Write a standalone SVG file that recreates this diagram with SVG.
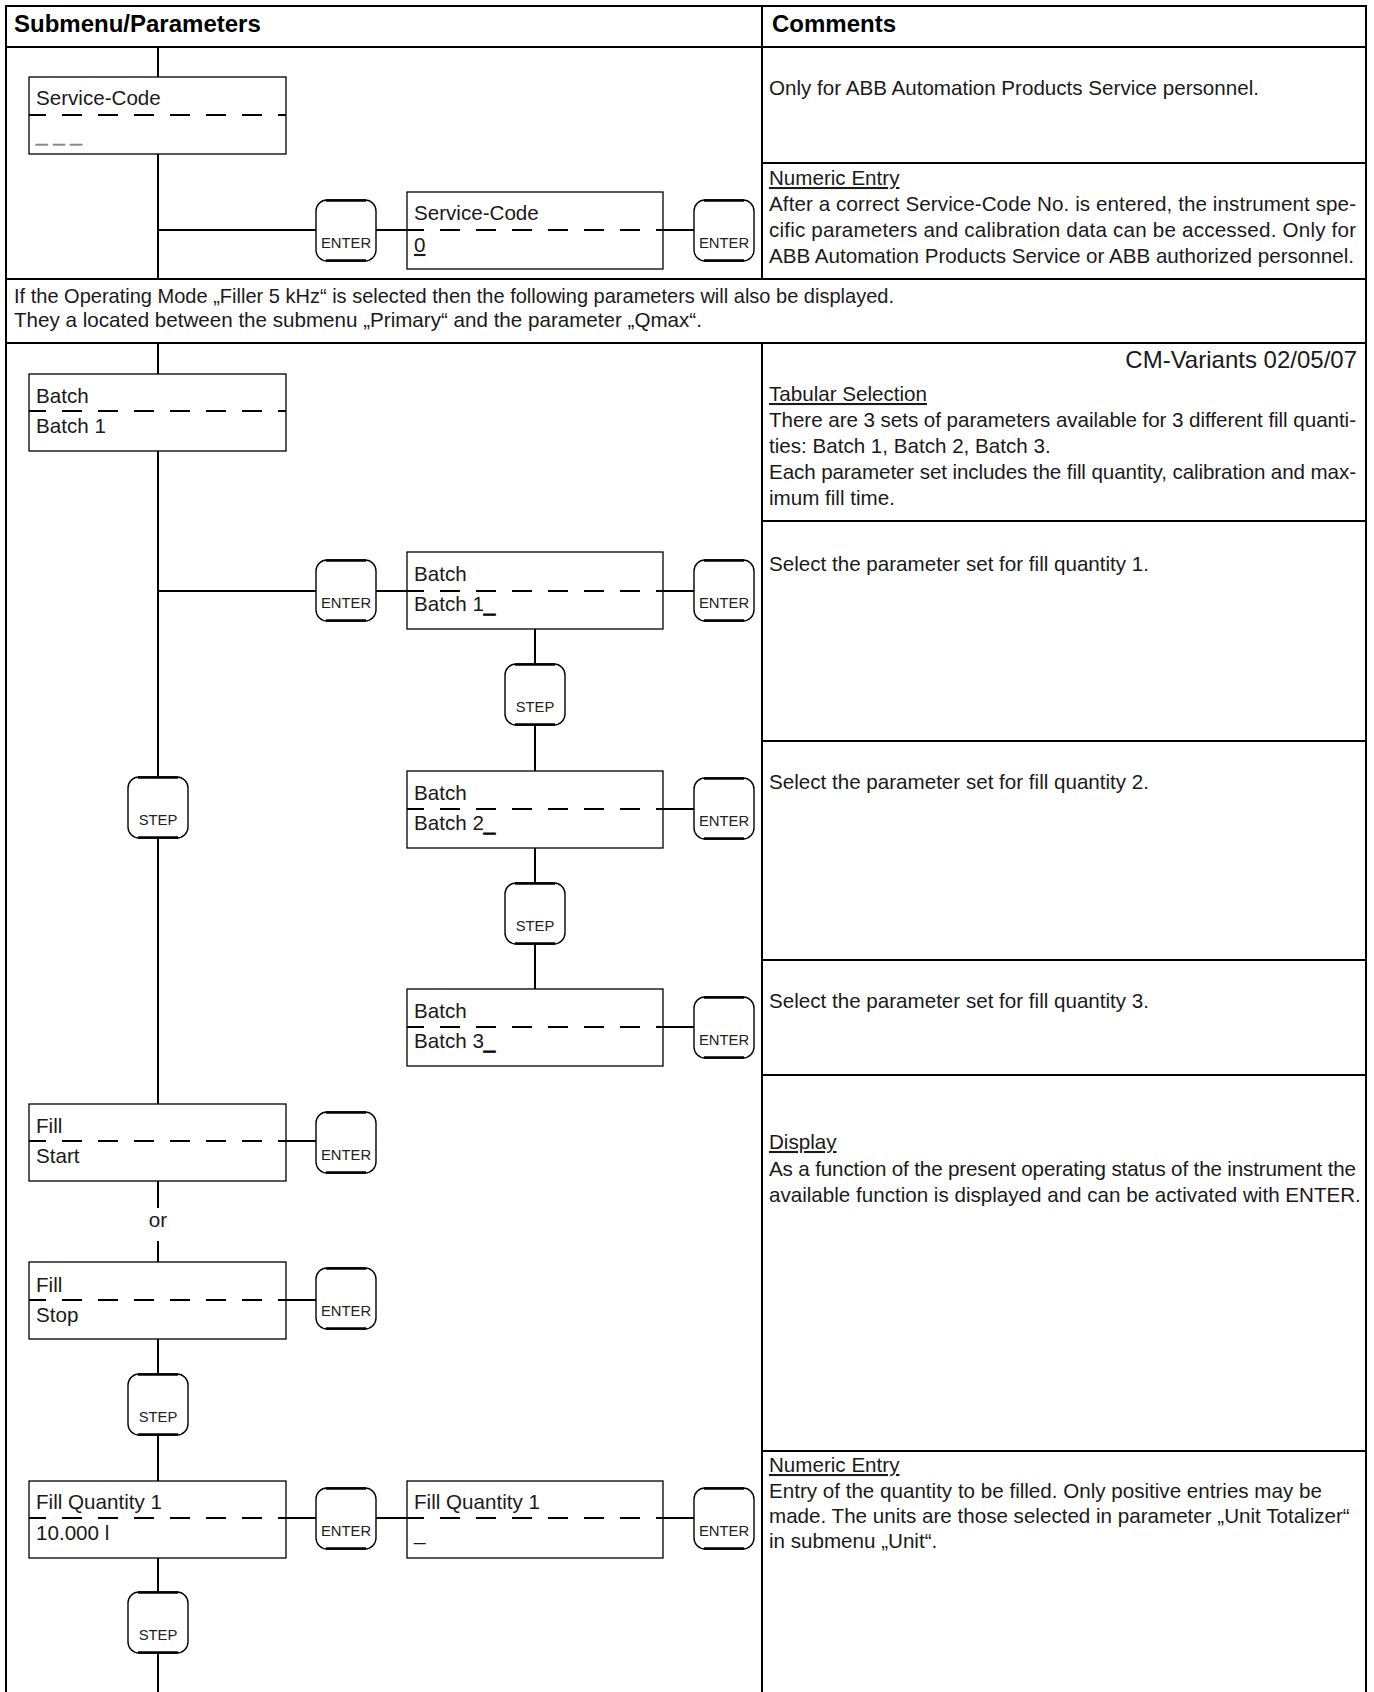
<svg xmlns="http://www.w3.org/2000/svg" xmlns:xlink="http://www.w3.org/1999/xlink" width="1374" height="1692" viewBox="0 0 1374 1692">
  <style>
    .grid { stroke:#000; stroke-width:2; fill:none; }
    .box { fill:#fff; stroke:#000; stroke-width:1.3; }
    .dash { stroke:#000; stroke-width:2.2; stroke-dasharray:20 16; stroke-dashoffset:3; }
    .wire { stroke:#000; stroke-width:2; fill:none; }
    .txt { font-family:"Liberation Sans", Arial, Helvetica, sans-serif; font-size:20.6px; fill:#1a1a1a; }
    .head { font-family:"Liberation Sans", Arial, Helvetica, sans-serif; font-size:24px; font-weight:bold; fill:#000; }
    .key { font-family:"Liberation Sans", Arial, Helvetica, sans-serif; font-size:14.8px; fill:#222; text-anchor:middle; }
    .ul { text-decoration:underline; }
    .faint { fill:#888; stroke:#888; stroke-width:0.6; }
    .cursor { stroke:#000; stroke-width:0.8; }
  </style>
  <defs>
    <!-- push-button outline: rounded body with heavier top and bottom edges -->
    <g id="keyShape">
      <rect x="0" y="0" width="60" height="61" rx="11" ry="11" fill="#fff" stroke="#000" stroke-width="1.4"/>
      <line x1="10" y1="0.5" x2="50" y2="0.5" stroke="#000" stroke-width="2.6"/>
      <line x1="10" y1="60.5" x2="50" y2="60.5" stroke="#000" stroke-width="2.6"/>
    </g>
  </defs>

  <rect width="1374" height="1692" fill="#fff"/>

  <!-- table frame -->
  <g id="table">
    <line class="grid" x1="6" y1="6" x2="1366" y2="6"/>
    <line class="grid" x1="6" y1="5" x2="6" y2="1692"/>
    <line class="grid" x1="1366" y1="5" x2="1366" y2="1692"/>
    <line class="grid" x1="6" y1="47" x2="1366" y2="47"/>
    <line class="grid" x1="762" y1="6" x2="762" y2="279"/>
    <line class="grid" x1="762" y1="163" x2="1366" y2="163"/>
    <line class="grid" x1="6" y1="279" x2="1366" y2="279"/>
    <line class="grid" x1="6" y1="343" x2="1366" y2="343"/>
    <line class="grid" x1="762" y1="343" x2="762" y2="1692"/>
    <line class="grid" x1="762" y1="521" x2="1366" y2="521"/>
    <line class="grid" x1="762" y1="741" x2="1366" y2="741"/>
    <line class="grid" x1="762" y1="960" x2="1366" y2="960"/>
    <line class="grid" x1="762" y1="1075" x2="1366" y2="1075"/>
    <line class="grid" x1="762" y1="1451" x2="1366" y2="1451"/>
  </g>

  <!-- column headings -->
  <g id="headings">
    <text class="head" x="14" y="32">Submenu/Parameters</text>
    <text class="head" x="772" y="32">Comments</text>
  </g>

  <!-- comments column -->
  <g id="comments" class="txt">
    <text x="769" y="95">Only for ABB Automation Products Service personnel.</text>
    <text x="769" y="185" class="ul">Numeric Entry</text>
    <text x="769" y="211" textLength="587" lengthAdjust="spacing">After a correct Service-Code No. is entered, the instrument spe-</text>
    <text x="769" y="237" textLength="587" lengthAdjust="spacing">cific parameters and calibration data can be accessed. Only for</text>
    <text x="769" y="263">ABB Automation Products Service or ABB authorized personnel.</text>

    <text x="1357" y="368" style="font-size:24px;text-anchor:end">CM-Variants 02/05/07</text>
    <text x="769" y="401" class="ul">Tabular Selection</text>
    <text x="769" y="427" textLength="587" lengthAdjust="spacing">There are 3 sets of parameters available for 3 different fill quanti-</text>
    <text x="769" y="453">ties: Batch 1, Batch 2, Batch 3.</text>
    <text x="769" y="479" textLength="587" lengthAdjust="spacing">Each parameter set includes the fill quantity, calibration and max-</text>
    <text x="769" y="505">imum fill time.</text>

    <text x="769" y="571">Select the parameter set for fill quantity 1.</text>
    <text x="769" y="789">Select the parameter set for fill quantity 2.</text>
    <text x="769" y="1008">Select the parameter set for fill quantity 3.</text>

    <text x="769" y="1149" class="ul">Display</text>
    <text x="769" y="1176" textLength="587" lengthAdjust="spacing">As a function of the present operating status of the instrument the</text>
    <text x="769" y="1202">available function is displayed and can be activated with ENTER.</text>

    <text x="769" y="1472" class="ul">Numeric Entry</text>
    <text x="769" y="1498">Entry of the quantity to be filled. Only positive entries may be</text>
    <text x="769" y="1523">made. The units are those selected in parameter „Unit Totalizer“</text>
    <text x="769" y="1548">in submenu „Unit“.</text>
  </g>

  <!-- full-width note -->
  <g id="note" class="txt">
    <text x="14" y="303" textLength="880" lengthAdjust="spacingAndGlyphs">If the Operating Mode „Filler 5 kHz“ is selected then the following parameters will also be displayed.</text>
    <text x="14" y="327">They a located between the submenu „Primary“ and the parameter „Qmax“.</text>
  </g>

  <!-- connectors -->
  <g id="connectors" class="wire">
    <line x1="158" y1="48" x2="158" y2="77"/>
    <line x1="158" y1="154" x2="158" y2="279"/>
    <line x1="158" y1="230" x2="316" y2="230"/>
    <line x1="376" y1="230" x2="407" y2="230"/>
    <line x1="663" y1="230" x2="694" y2="230"/>

    <line x1="158" y1="344" x2="158" y2="374"/>
    <line x1="158" y1="451" x2="158" y2="777"/>
    <line x1="158" y1="591" x2="316" y2="591"/>
    <line x1="376" y1="591" x2="407" y2="591"/>
    <line x1="663" y1="591" x2="694" y2="591"/>
    <line x1="535" y1="629" x2="535" y2="664"/>
    <line x1="535" y1="725" x2="535" y2="771"/>
    <line x1="663" y1="809" x2="694" y2="809"/>
    <line x1="535" y1="848" x2="535" y2="883"/>
    <line x1="535" y1="944" x2="535" y2="989"/>
    <line x1="663" y1="1027" x2="694" y2="1027"/>

    <line x1="158" y1="838" x2="158" y2="1104"/>
    <line x1="286" y1="1141" x2="316" y2="1141"/>
    <line x1="158" y1="1181" x2="158" y2="1208"/>
    <line x1="158" y1="1241" x2="158" y2="1262"/>
    <line x1="286" y1="1300" x2="316" y2="1300"/>
    <line x1="158" y1="1339" x2="158" y2="1374"/>
    <line x1="158" y1="1435" x2="158" y2="1481"/>
    <line x1="286" y1="1518" x2="316" y2="1518"/>
    <line x1="376" y1="1518" x2="407" y2="1518"/>
    <line x1="663" y1="1518" x2="694" y2="1518"/>
    <line x1="158" y1="1558" x2="158" y2="1592"/>
    <line x1="158" y1="1653" x2="158" y2="1692"/>
  </g>
  <text class="txt" x="158" y="1227" text-anchor="middle">or</text>

  <!-- display nodes -->
  <g id="sc-code" class="txt">
    <rect class="box" x="29" y="77" width="257" height="77"/>
    <line class="dash" x1="29" y1="115" x2="286" y2="115"/>
    <text x="36" y="105">Service-Code</text>
    <text x="36" y="141" class="faint">_ _ _</text>
  </g>
  <g id="sc-entry" class="txt">
    <rect class="box" x="407" y="192" width="256" height="77"/>
    <line class="dash" x1="407" y1="230" x2="663" y2="230"/>
    <text x="414" y="220">Service-Code</text>
    <text x="414" y="252" class="ul">0</text>
  </g>
  <g id="batch" class="txt">
    <rect class="box" x="29" y="374" width="257" height="77"/>
    <line class="dash" x1="29" y1="411" x2="286" y2="411"/>
    <text x="36" y="403">Batch</text>
    <text x="36" y="433">Batch 1</text>
  </g>
  <g id="batch-1" class="txt">
    <rect class="box" x="407" y="552" width="256" height="77"/>
    <line class="dash" x1="407" y1="591" x2="663" y2="591"/>
    <text x="414" y="581">Batch</text>
    <text x="414" y="611">Batch 1<tspan class="cursor">_</tspan></text>
  </g>
  <g id="batch-2" class="txt">
    <rect class="box" x="407" y="771" width="256" height="77"/>
    <line class="dash" x1="407" y1="809" x2="663" y2="809"/>
    <text x="414" y="800">Batch</text>
    <text x="414" y="830">Batch 2<tspan class="cursor">_</tspan></text>
  </g>
  <g id="batch-3" class="txt">
    <rect class="box" x="407" y="989" width="256" height="77"/>
    <line class="dash" x1="407" y1="1027" x2="663" y2="1027"/>
    <text x="414" y="1018">Batch</text>
    <text x="414" y="1048">Batch 3<tspan class="cursor">_</tspan></text>
  </g>
  <g id="fill-start" class="txt">
    <rect class="box" x="29" y="1104" width="257" height="77"/>
    <line class="dash" x1="29" y1="1141" x2="286" y2="1141"/>
    <text x="36" y="1133">Fill</text>
    <text x="36" y="1163">Start</text>
  </g>
  <g id="fill-stop" class="txt">
    <rect class="box" x="29" y="1262" width="257" height="77"/>
    <line class="dash" x1="29" y1="1300" x2="286" y2="1300"/>
    <text x="36" y="1292">Fill</text>
    <text x="36" y="1322">Stop</text>
  </g>
  <g id="fill-qty" class="txt">
    <rect class="box" x="29" y="1481" width="257" height="77"/>
    <line class="dash" x1="29" y1="1518" x2="286" y2="1518"/>
    <text x="36" y="1509">Fill Quantity 1</text>
    <text x="36" y="1540">10.000 l</text>
  </g>
  <g id="fill-qty-entry" class="txt">
    <rect class="box" x="407" y="1481" width="256" height="77"/>
    <line class="dash" x1="407" y1="1518" x2="663" y2="1518"/>
    <text x="414" y="1509">Fill Quantity 1</text>
    <text x="414" y="1540">_</text>
  </g>

  <!-- keys -->
  <g id="key-enter-sc1"><use xlink:href="#keyShape" x="316" y="200"/><text class="key" x="346" y="248">ENTER</text></g>
  <g id="key-enter-sc2"><use xlink:href="#keyShape" x="694" y="200"/><text class="key" x="724" y="248">ENTER</text></g>
  <g id="key-enter-b0"><use xlink:href="#keyShape" x="316" y="560"/><text class="key" x="346" y="608">ENTER</text></g>
  <g id="key-enter-b1"><use xlink:href="#keyShape" x="694" y="560"/><text class="key" x="724" y="608">ENTER</text></g>
  <g id="key-step-b1"><use xlink:href="#keyShape" x="505" y="664"/><text class="key" x="535" y="712">STEP</text></g>
  <g id="key-enter-b2"><use xlink:href="#keyShape" x="694" y="778"/><text class="key" x="724" y="826">ENTER</text></g>
  <g id="key-step-b2"><use xlink:href="#keyShape" x="505" y="883"/><text class="key" x="535" y="931">STEP</text></g>
  <g id="key-enter-b3"><use xlink:href="#keyShape" x="694" y="997"/><text class="key" x="724" y="1045">ENTER</text></g>
  <g id="key-step-batch"><use xlink:href="#keyShape" x="128" y="777"/><text class="key" x="158" y="825">STEP</text></g>
  <g id="key-enter-start"><use xlink:href="#keyShape" x="316" y="1112"/><text class="key" x="346" y="1160">ENTER</text></g>
  <g id="key-enter-stop"><use xlink:href="#keyShape" x="316" y="1268"/><text class="key" x="346" y="1316">ENTER</text></g>
  <g id="key-step-fill"><use xlink:href="#keyShape" x="128" y="1374"/><text class="key" x="158" y="1422">STEP</text></g>
  <g id="key-enter-q1"><use xlink:href="#keyShape" x="316" y="1488"/><text class="key" x="346" y="1536">ENTER</text></g>
  <g id="key-enter-q2"><use xlink:href="#keyShape" x="694" y="1488"/><text class="key" x="724" y="1536">ENTER</text></g>
  <g id="key-step-qty"><use xlink:href="#keyShape" x="128" y="1592"/><text class="key" x="158" y="1640">STEP</text></g>
</svg>
